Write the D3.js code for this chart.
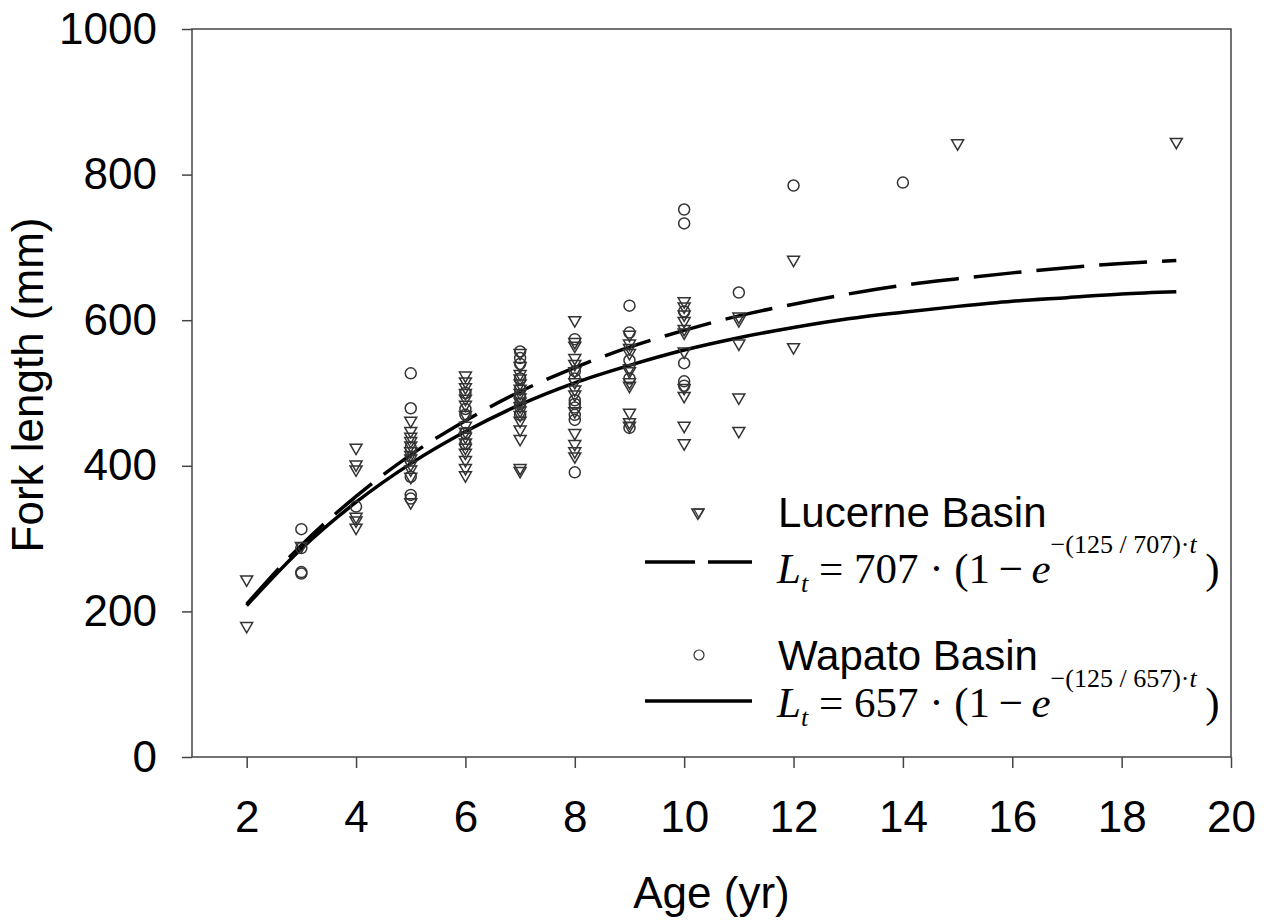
<!DOCTYPE html>
<html>
<head>
<meta charset="utf-8">
<script src="https://cdn.jsdelivr.net/npm/d3@7"></script>
<style>
  body { margin: 0; background: #fff; }
  svg { display: block; }
</style>
</head>
<body>
<div id="graph-section"></div>
<script>
// ticks
var xTicks = [2, 4, 6, 8, 10, 12, 14, 16, 18, 20];
var yTicks = [0, 200, 400, 600, 800, 1000];

// Lucerne Basin observations [age, fork length]
var lucerne = [
  [2, 244], [2, 180],
  [3, 290],
  [4, 425], [4, 402], [4, 395], [4, 330], [4, 325], [4, 315],
  [5, 462], [5, 448], [5, 440], [5, 434], [5, 428], [5, 420], [5, 415], [5, 410], [5, 402], [5, 395], [5, 385], [5, 350],
  [6, 524], [6, 516], [6, 508], [6, 500], [6, 492], [6, 484], [6, 470], [6, 455], [6, 447], [6, 440], [6, 432], [6, 425], [6, 418], [6, 408], [6, 397], [6, 387],
  [7, 555], [7, 537], [7, 526], [7, 520], [7, 513], [7, 506], [7, 500], [7, 494], [7, 488], [7, 482], [7, 476], [7, 470], [7, 462], [7, 450], [7, 437], [7, 397], [7, 393],
  [8, 600], [8, 570], [8, 565], [8, 548], [8, 540], [8, 530], [8, 515], [8, 505], [8, 498], [8, 475], [8, 445], [8, 430], [8, 420], [8, 413],
  [9, 580], [9, 568], [9, 562], [9, 555], [9, 534], [9, 530], [9, 515], [9, 510], [9, 473], [9, 460], [9, 455],
  [10, 626], [10, 619], [10, 608], [10, 599], [10, 588], [10, 583], [10, 557], [10, 507], [10, 496], [10, 455], [10, 431],
  [10.25, 336],
  [11, 605], [11, 600], [11, 568], [11, 494], [11, 448],
  [12, 683], [12, 563],
  [15, 843],
  [19, 845]
];

// Wapato Basin observations [age, fork length]
var wapato = [
  [3, 313], [3, 287], [3, 254], [3, 252],
  [4, 344],
  [5, 527], [5, 479], [5, 425], [5, 385], [5, 360], [5, 355],
  [6, 500], [6, 478], [6, 470], [6, 445], [6, 430],
  [7, 557], [7, 548], [7, 540], [7, 520], [7, 505], [7, 495], [7, 485], [7, 470],
  [8, 574], [8, 530], [8, 520], [8, 490], [8, 485], [8, 480], [8, 470], [8, 463], [8, 391],
  [9, 620], [9, 583], [9, 545], [9, 520], [9, 452],
  [10, 752], [10, 733], [10, 612], [10, 541], [10, 516], [10, 510],
  [11, 638],
  [12, 785],
  [14, 789]
];

// fitted growth curves
var fitAges = [2, 3, 4, 5, 6, 7, 8, 9, 10, 11, 12, 13, 14, 15, 16, 17, 18, 19];
var lucerneFit = [210, 291, 358, 415, 462, 502, 535, 563, 586, 606, 622, 636, 648, 657, 665, 672, 678, 682];
var wapatoFit = [208, 286, 350, 403, 447, 484, 514, 538, 559, 576, 590, 602, 611, 619, 626, 631, 636, 639];

var fullWidth = 1270;
var fullHeight = 924;
var plotLeft = 192, plotRight = 1231, plotTop = 29, plotBottom = 757;

var svg = d3.select('div#graph-section').append('svg')
    .attr('width', fullWidth)
    .attr('height', fullHeight)
    .style('font-family', '"Liberation Sans", Arial, sans-serif');

var xScale = d3.scaleLinear().domain([1, 20]).range([plotLeft, plotRight]);
var yScale = d3.scaleLinear().domain([0, 1000]).range([plotBottom, plotTop]);

// frame
svg.append('rect')
    .attr('x', plotLeft)
    .attr('y', plotTop)
    .attr('width', plotRight - plotLeft)
    .attr('height', plotBottom - plotTop)
    .attr('fill', 'none')
    .attr('stroke', '#444')
    .attr('stroke-width', 1.5);

// axes
var xAxis = d3.axisBottom(xScale).tickValues(xTicks).tickSize(11).tickSizeOuter(0);
var yAxis = d3.axisLeft(yScale).tickValues(yTicks).tickSize(10).tickSizeOuter(0)
    .tickPadding(25).tickFormat(d3.format('d'));

var xg = svg.append('g')
    .attr('transform', 'translate(0,' + plotBottom + ')')
    .call(xAxis);
xg.selectAll('text')
    .attr('y', 75)
    .attr('dy', 0)
    .style('font-size', '44px')
    .attr('fill', '#000');

var yg = svg.append('g')
    .attr('transform', 'translate(' + plotLeft + ',0)')
    .call(yAxis);
yg.selectAll('text')
    .style('font-size', '44px')
    .attr('fill', '#000');

svg.selectAll('.domain').remove();
svg.selectAll('.tick line')
    .attr('stroke', '#444')
    .attr('stroke-width', 1.5);

// axis titles
svg.append('text')
    .attr('x', (plotLeft + plotRight) / 2)
    .attr('y', 908)
    .attr('text-anchor', 'middle')
    .style('font-size', '44px')
    .text('Age (yr)');

svg.append('text')
    .attr('transform', 'translate(43,385)rotate(-90)')
    .attr('text-anchor', 'middle')
    .style('font-size', '44px')
    .text('Fork length (mm)');

// fitted curves
var line = d3.line()
    .x(function(d, i) { return xScale(fitAges[i]); })
    .y(function(d) { return yScale(d); })
    .curve(d3.curveMonotoneX);

svg.append('path')
    .datum(lucerneFit)
    .attr('d', line)
    .attr('fill', 'none')
    .attr('stroke', '#000')
    .attr('stroke-width', 3.5)
    .attr('stroke-dasharray', '48,15');

svg.append('path')
    .datum(wapatoFit)
    .attr('d', line)
    .attr('fill', 'none')
    .attr('stroke', '#000')
    .attr('stroke-width', 3.5);

// points
var tri = d3.symbol().type(d3.symbolTriangle).size(62);

svg.append('g').selectAll('path.lucerne')
    .data(lucerne)
    .enter().append('path')
    .classed('lucerne', true)
    .attr('d', tri)
    .attr('transform', function(d) {
        return 'translate(' + xScale(d[0]) + ',' + yScale(d[1]) + ')rotate(180)';
    })
    .attr('fill', 'none')
    .attr('stroke', '#333')
    .attr('stroke-width', 1.5);

svg.append('g').selectAll('circle.wapato')
    .data(wapato)
    .enter().append('circle')
    .classed('wapato', true)
    .attr('cx', function(d) { return xScale(d[0]); })
    .attr('cy', function(d) { return yScale(d[1]); })
    .attr('r', 5.5)
    .attr('fill', 'none')
    .attr('stroke', '#333')
    .attr('stroke-width', 1.5);

// legend
var legend = svg.append('g');

legend.append('path')
    .attr('d', d3.symbol().type(d3.symbolTriangle).size(45))
    .attr('transform', 'translate(699,512)rotate(180)')
    .attr('fill', 'none')
    .attr('stroke', '#333')
    .attr('stroke-width', 1.2);

legend.append('text')
    .attr('x', 778).attr('y', 527)
    .style('font-size', '42px')
    .text('Lucerne Basin');

legend.append('line')
    .attr('x1', 645).attr('x2', 752)
    .attr('y1', 562).attr('y2', 562)
    .attr('stroke', '#000')
    .attr('stroke-width', 3.5)
    .attr('stroke-dasharray', '50,13');

legend.append('circle')
    .attr('cx', 699).attr('cy', 655)
    .attr('r', 5)
    .attr('fill', 'none')
    .attr('stroke', '#333')
    .attr('stroke-width', 1.2);

legend.append('text')
    .attr('x', 778).attr('y', 670)
    .style('font-size', '42px')
    .text('Wapato Basin');

legend.append('line')
    .attr('x1', 645).attr('x2', 752)
    .attr('y1', 701).attr('y2', 701)
    .attr('stroke', '#000')
    .attr('stroke-width', 3.5);

function formula(y, k) {
    var t = legend.append('text')
        .attr('x', 777).attr('y', y)
        .style('font-family', '"Liberation Serif", "Times New Roman", serif')
        .style('font-size', '43px');
    t.append('tspan').style('font-style', 'italic').text('L');
    t.append('tspan').style('font-style', 'italic').style('font-size', '26px').attr('dy', 9).text('t');
    t.append('tspan').attr('dy', -9).text(' = ' + k + ' \u00b7 (1\u2009\u2212\u2009');
    t.append('tspan').style('font-style', 'italic').text('e');
    t.append('tspan').style('font-size', '26px').attr('dy', -30).text('\u2212(125 / ' + k + ')\u00b7');
    t.append('tspan').style('font-size', '26px').style('font-style', 'italic').text('t');
    t.append('tspan').attr('dy', 30).text('\u2009)');
}
formula(583, 707);
formula(717, 657);
</script>
</body>
</html>
